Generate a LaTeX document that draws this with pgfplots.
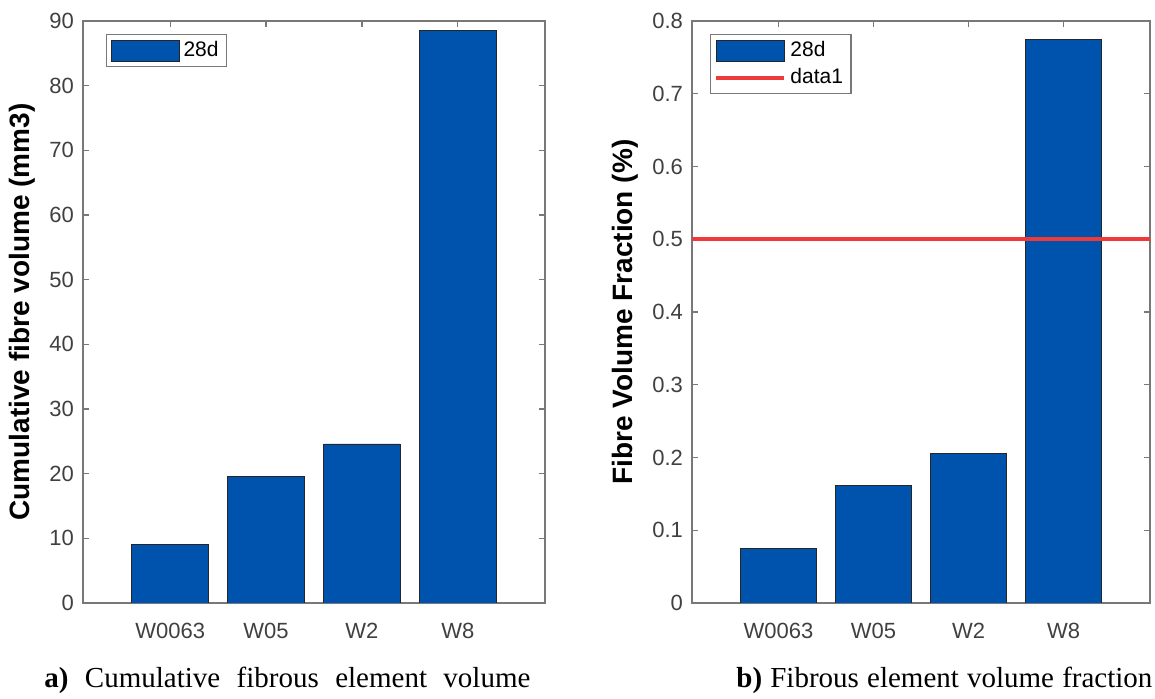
\documentclass[border=0pt]{standalone}
\usepackage{pgfplots}
\pgfplotsset{compat=1.18}
\usepackage{fontspec}
\setmainfont{Liberation Sans}
\newfontfamily\capfont{Liberation Serif}

\definecolor{barblue}{RGB}{0,83,173}
\definecolor{axgray}{RGB}{120,120,120}
\definecolor{ticktext}{RGB}{64,64,64}
\definecolor{linered}{RGB}{238,58,58}

\pgfplotsset{
  fibrebar/.style={
    scale only axis, width=231pt, height=291pt,
    xmin=0.09, xmax=4.91, ymin=0,
    xtick={1,2,3,4}, xticklabels={W0063,W05,W2,W8},
    axis line style={axgray, line width=0.6pt},
    tick style={axgray, line width=0.6pt},
    tick align=inside, major tick length=3pt,
    xtick pos=both, ytick pos=both,
    ticklabel style={font=\fontsize{11}{13}\selectfont, text=ticktext},
    /pgf/number format/assume math mode=true,
    xticklabel style={yshift=-6.5pt},
    yticklabel style={xshift=-1pt},
    ylabel style={font=\fontsize{14}{16}\selectfont\bfseries, text=black},
    legend style={draw=axgray, line width=0.6pt, font=\fontsize{10.5}{12}\selectfont,
      text=black, inner xsep=2pt, inner ysep=1.5pt, row sep=0.5pt, anchor=north west},
    legend cell align=left,
  },
  barleg/.style={legend image code/.code={
      \draw[fill=barblue, draw=black!85, line width=0.4pt] (0pt,-5.3pt) rectangle (34pt,5.3pt);}},
  lineleg/.style={legend image code/.code={
      \draw[linered, line width=2pt] (0pt,0pt) -- (34pt,0pt);}},
}

\begin{document}
\begin{tikzpicture}
\useasboundingbox (0,0) rectangle (577.5pt,349.5pt);

% (a) cumulative fibre volume
\begin{axis}[fibrebar, at={(41.5pt,48pt)}, anchor=south west,
  ymax=90, ytick={0,10,...,90},
  ylabel={Cumulative fibre volume (mm3)},
  legend style={at={(0.05,0.978)}}]
\addplot[ybar, bar width=0.8, fill=barblue, draw=black!85, line width=0.4pt, barleg]
  coordinates {(1,9.0) (2,19.5) (3,24.6) (4,88.5)};
\addlegendentry{28d}
\end{axis}

% (b) fibre volume fraction
\begin{axis}[fibrebar, at={(346pt,48pt)}, anchor=south west, width=229pt,
  ymax=0.8, ytick={0,0.1,...,0.8},
  yticklabel style={/pgf/number format/fixed, /pgf/number format/precision=1},
  ylabel={Fibre Volume Fraction (\%)},
  legend style={at={(0.039,0.978)}}]
\addplot[ybar, bar width=0.8, fill=barblue, draw=black!85, line width=0.4pt, barleg]
  coordinates {(1,0.075) (2,0.161) (3,0.205) (4,0.775)};
\addlegendentry{28d}
\addplot[linered, line width=2pt, lineleg] coordinates {(0.09,0.5) (4.91,0.5)};
\addlegendentry{data1}
\end{axis}

\node[anchor=base west, inner sep=0pt] at (22pt,5.5pt)
  {\capfont\fontsize{14.5}{17}\selectfont\makebox[243pt][s]{\textbf{a)} Cumulative fibrous element volume}};
\node[anchor=base west, inner sep=0pt] at (368pt,5.5pt)
  {\capfont\fontsize{14.5}{17}\selectfont\makebox[208pt][s]{\textbf{b)} Fibrous element volume fraction}};
\end{tikzpicture}
\end{document}
